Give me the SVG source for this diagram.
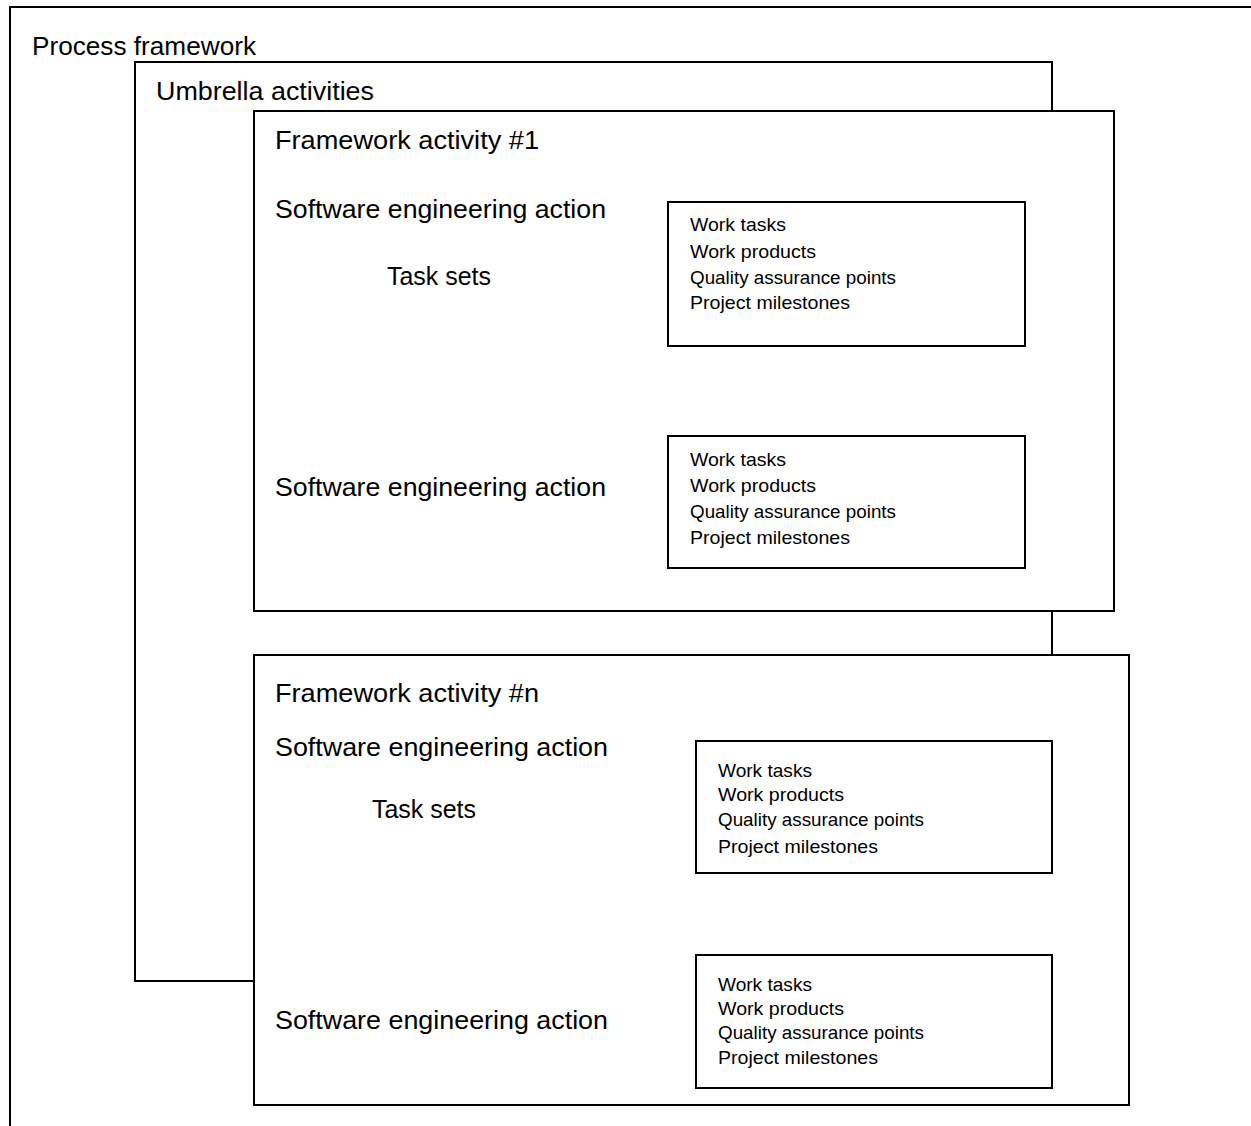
<svg xmlns="http://www.w3.org/2000/svg" width="1251" height="1126" viewBox="0 0 1251 1126">
<style>
.box{fill:#fff;stroke:#000;stroke-width:2}
.big{font-family:"Liberation Sans",Arial,sans-serif;font-size:25.5px;fill:#000}
.small{font-family:"Liberation Sans",Arial,sans-serif;font-size:18.5px;fill:#000}
</style>
<rect width="1251" height="1126" fill="#fff"/>
<g id="process-framework">
<rect class="box" x="10" y="7" width="1300" height="1200"/>
<text class="big" x="32" y="55" textLength="224" lengthAdjust="spacingAndGlyphs">Process framework</text>
</g>
<g id="umbrella-activities">
<rect class="box" x="135" y="62" width="917" height="919"/>
<text class="big" x="156" y="100" textLength="218" lengthAdjust="spacingAndGlyphs">Umbrella activities</text>
</g>
<g id="framework-activity-1">
<rect class="box" x="254" y="111" width="860" height="500"/>
<text class="big" x="275" y="149" textLength="264" lengthAdjust="spacingAndGlyphs">Framework activity #1</text>
<text class="big" x="275" y="218" textLength="331" lengthAdjust="spacingAndGlyphs">Software engineering action</text>
<text class="big" x="387" y="285" textLength="104" lengthAdjust="spacingAndGlyphs">Task sets</text>
<text class="big" x="275" y="496" textLength="331" lengthAdjust="spacingAndGlyphs">Software engineering action</text>
</g>
<g id="tasks-1a">
<rect class="box" x="668" y="202" width="357" height="144"/>
<text class="small" x="690" y="231" textLength="96" lengthAdjust="spacingAndGlyphs">Work tasks</text>
<text class="small" x="690" y="258" textLength="126" lengthAdjust="spacingAndGlyphs">Work products</text>
<text class="small" x="690" y="284" textLength="206" lengthAdjust="spacingAndGlyphs">Quality assurance points</text>
<text class="small" x="690" y="309" textLength="160" lengthAdjust="spacingAndGlyphs">Project milestones</text>
</g>
<g id="tasks-1b">
<rect class="box" x="668" y="436" width="357" height="132"/>
<text class="small" x="690" y="466" textLength="96" lengthAdjust="spacingAndGlyphs">Work tasks</text>
<text class="small" x="690" y="492" textLength="126" lengthAdjust="spacingAndGlyphs">Work products</text>
<text class="small" x="690" y="518" textLength="206" lengthAdjust="spacingAndGlyphs">Quality assurance points</text>
<text class="small" x="690" y="544" textLength="160" lengthAdjust="spacingAndGlyphs">Project milestones</text>
</g>
<g id="framework-activity-n">
<rect class="box" x="254" y="655" width="875" height="450"/>
<text class="big" x="275" y="702" textLength="264" lengthAdjust="spacingAndGlyphs">Framework activity #n</text>
<text class="big" x="275" y="756" textLength="333" lengthAdjust="spacingAndGlyphs">Software engineering action</text>
<text class="big" x="372" y="818" textLength="104" lengthAdjust="spacingAndGlyphs">Task sets</text>
<text class="big" x="275" y="1029" textLength="333" lengthAdjust="spacingAndGlyphs">Software engineering action</text>
</g>
<g id="tasks-na">
<rect class="box" x="696" y="741" width="356" height="132"/>
<text class="small" x="718" y="777" textLength="94" lengthAdjust="spacingAndGlyphs">Work tasks</text>
<text class="small" x="718" y="801" textLength="126" lengthAdjust="spacingAndGlyphs">Work products</text>
<text class="small" x="718" y="826" textLength="206" lengthAdjust="spacingAndGlyphs">Quality assurance points</text>
<text class="small" x="718" y="853" textLength="160" lengthAdjust="spacingAndGlyphs">Project milestones</text>
</g>
<g id="tasks-nb">
<rect class="box" x="696" y="955" width="356" height="133"/>
<text class="small" x="718" y="991" textLength="94" lengthAdjust="spacingAndGlyphs">Work tasks</text>
<text class="small" x="718" y="1015" textLength="126" lengthAdjust="spacingAndGlyphs">Work products</text>
<text class="small" x="718" y="1039" textLength="206" lengthAdjust="spacingAndGlyphs">Quality assurance points</text>
<text class="small" x="718" y="1064" textLength="160" lengthAdjust="spacingAndGlyphs">Project milestones</text>
</g>
<g id="connectors"></g>
</svg>
